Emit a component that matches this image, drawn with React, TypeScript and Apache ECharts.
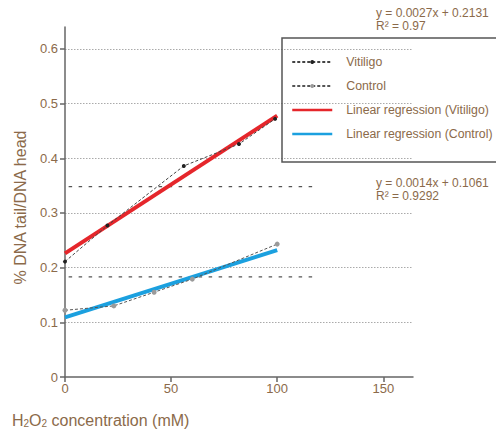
import React, { useEffect, useRef } from "react";
import * as echarts from "echarts";

const vitiligoX = [0, 20, 56, 82, 99];
const vitiligoY = [0.211, 0.277, 0.386, 0.426, 0.472];
const controlX = [0, 23, 42, 60, 100];
const controlY = [0.122, 0.13, 0.155, 0.179, 0.243];
const regVitiligo = [
  [0, 0.226],
  [100, 0.478],
];
const regControl = [
  [0, 0.109],
  [100, 0.232],
];
const refLineA = [
  [-3, 0.348],
  [119, 0.348],
];
const refLineB = [
  [-3, 0.183],
  [119, 0.183],
];
const xTicks = [0, 50, 100, 150];
const yTicks = [0, 0.1, 0.2, 0.3, 0.4, 0.5, 0.6];
const seriesNames = [
  "Vitiligo",
  "Control",
  "Linear regression (Vitiligo)",
  "Linear regression (Control)",
];
const eqVitiligo = "y = 0.0027x + 0.2131\nR² = 0.97";
const eqControl = "y = 0.0014x + 0.1061\nR² = 0.9292";

const BROWN = "#8b6a4a";
const AXIS = "#666666";
const FONT = '"Liberation Sans", Arial, sans-serif';

export default function App() {
  const ref = useRef<HTMLDivElement>(null);
  useEffect(() => {
    if (!ref.current) return;
    const chart = echarts.init(ref.current, undefined, { renderer: "svg" });
    const zip = (xs: number[], ys: number[]) => xs.map((x, i) => [x, ys[i]]);
    chart.setOption({
      animation: false,
      backgroundColor: "#ffffff",
      textStyle: { fontFamily: FONT },
      grid: { left: 65, right: 83, top: 27, bottom: 52 },
      xAxis: {
        type: "value",
        min: 0,
        max: 164,
        interval: 50,
        axisLine: { show: true, lineStyle: { color: AXIS, width: 1.5 } },
        axisTick: {
          show: true,
          length: 5,
          customValues: xTicks,
          lineStyle: { color: AXIS, width: 1.5 },
        },
        axisLabel: {
          color: BROWN,
          fontSize: 13,
          margin: 5,
          fontFamily: FONT,
          customValues: xTicks,
        },
        splitLine: { show: false },
      },
      yAxis: {
        type: "value",
        min: 0,
        max: 0.64,
        interval: 0.1,
        name: "% DNA tail/DNA head",
        nameLocation: "middle",
        nameGap: 37,
        nameTextStyle: { color: BROWN, fontSize: 16, fontFamily: FONT, padding: [0, 11, 0, 0] },
        axisLine: { show: true, lineStyle: { color: AXIS, width: 1.5 } },
        axisTick: {
          show: true,
          length: 5,
          customValues: yTicks,
          lineStyle: { color: AXIS, width: 1.5 },
        },
        axisLabel: {
          color: BROWN,
          fontSize: 13,
          margin: 7,
          fontFamily: FONT,
          customValues: yTicks,
        },
        splitLine: {
          show: true,
          showMinLine: false,
          lineStyle: { color: "#aaaaaa", type: [1.5, 1.5], width: 1 },
        },
      },
      legend: {
        data: [
          { name: seriesNames[0] },
          { name: seriesNames[1] },
          { name: seriesNames[2], itemStyle: { color: "rgba(0,0,0,0)", opacity: 0 }, lineStyle: { width: 2.5 } },
          { name: seriesNames[3], itemStyle: { color: "rgba(0,0,0,0)", opacity: 0 }, lineStyle: { width: 2.5 } },
        ],
        orient: "vertical",
        left: 282,
        top: 38,
        padding: [17, 20, 21, 9],
        itemWidth: 40,
        itemHeight: 5,
        itemGap: 10,
        borderColor: "#555555",
        borderWidth: 1.5,
        textStyle: {
          color: BROWN,
          fontSize: 12.3,
          fontFamily: FONT,
          padding: [0, 0, 0, 9],
          lineHeight: 14,
        },
      },
      series: [
        {
          name: seriesNames[2],
          type: "line",
          data: regVitiligo,
          symbol: "none",
          lineStyle: { color: "#e5262b", width: 4 },
          itemStyle: { color: "#e5262b" },
          z: 2,
        },
        {
          name: seriesNames[3],
          type: "line",
          data: regControl,
          symbol: "none",
          lineStyle: { color: "#1ba0df", width: 4 },
          itemStyle: { color: "#1ba0df" },
          z: 2,
        },
        {
          name: seriesNames[0],
          type: "line",
          data: zip(vitiligoX, vitiligoY),
          symbol: "circle",
          symbolSize: 4,
          itemStyle: { color: "#222222" },
          lineStyle: { color: "#444444", width: 1, type: [3, 2] },
          z: 3,
        },
        {
          name: seriesNames[1],
          type: "line",
          data: zip(controlX, controlY),
          symbol: "circle",
          symbolSize: 5,
          itemStyle: { color: "#9a9a9a" },
          lineStyle: { color: "#555555", width: 1, type: [3, 2] },
          z: 3,
        },
        {
          type: "line",
          data: refLineA,
          symbol: "none",
          clip: false,
          silent: true,
          lineStyle: { color: "#555555", width: 1.3, type: [3.5, 6.5] },
          z: 1,
        },
        {
          type: "line",
          data: refLineB,
          symbol: "none",
          clip: false,
          silent: true,
          lineStyle: { color: "#555555", width: 1.3, type: [3.5, 6.5] },
          z: 1,
        },
      ],
      graphic: [
        {
          type: "text",
          left: 376,
          top: 6,
          style: { text: eqVitiligo, fill: BROWN, font: `12px ${FONT}`, lineHeight: 13 },
        },
        {
          type: "text",
          left: 376,
          top: 176,
          style: { text: eqControl, fill: BROWN, font: `12px ${FONT}`, lineHeight: 13 },
        },
        {
          type: "text",
          left: 12,
          top: 412,
          style: {
            text: "{n|H}{s|2}{n|O}{s|2}{n| concentration (mM)}",
            fill: BROWN,
            rich: {
              n: { fontSize: 16, lineHeight: 20, verticalAlign: "bottom", fontFamily: FONT, fill: BROWN },
              s: { fontSize: 10, lineHeight: 10, verticalAlign: "bottom", fontFamily: FONT, fill: BROWN },
            },
          },
        },
      ],
    });
    return () => chart.dispose();
  }, []);
  return (
    <div
      ref={ref}
      style={{ position: "absolute", left: 0, top: 0, width: 496, height: 429 }}
    />
  );
}
